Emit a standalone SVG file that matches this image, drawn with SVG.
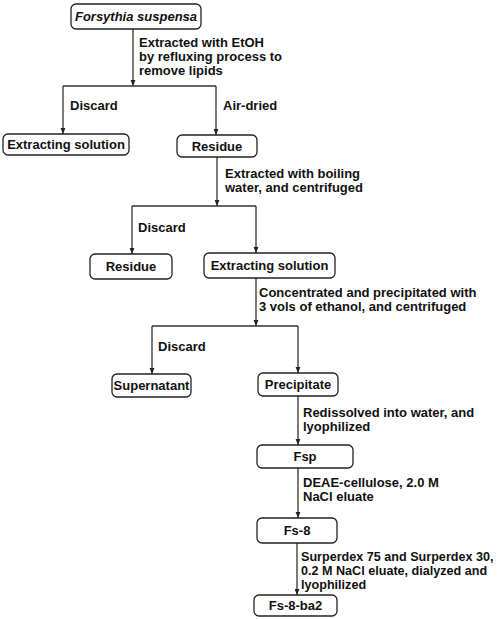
<svg xmlns="http://www.w3.org/2000/svg" width="500" height="619" viewBox="0 0 500 619">
<style>
.box{fill:#fff;stroke:#222;stroke-width:1.3}
.t{font-family:"Liberation Sans",Arial,sans-serif;font-weight:bold;font-size:13px;fill:#111}
.s{font-size:12.6px}
.c{text-anchor:middle}
.ln{stroke:#333;stroke-width:1.3;fill:none}
</style>
<defs>
<marker id="ah" viewBox="0 0 10 10" refX="10" refY="5" markerWidth="6" markerHeight="6" markerUnits="userSpaceOnUse" orient="auto">
<path d="M0,1 L10,5 L0,9 z" fill="#222"/>
</marker>
</defs>
<g id="connectors">
<line class="ln" x1="133" y1="29" x2="133" y2="86" marker-end="url(#ah)"/>
<line class="ln" x1="63" y1="86" x2="216" y2="86"/>
<line class="ln" x1="63" y1="86" x2="63" y2="134" marker-end="url(#ah)"/>
<line class="ln" x1="216" y1="86" x2="216" y2="135" marker-end="url(#ah)"/>
<line class="ln" x1="217" y1="157" x2="217" y2="206" marker-end="url(#ah)"/>
<line class="ln" x1="132" y1="206" x2="256" y2="206"/>
<line class="ln" x1="132" y1="206" x2="132" y2="254" marker-end="url(#ah)"/>
<line class="ln" x1="256" y1="206" x2="256" y2="253" marker-end="url(#ah)"/>
<line class="ln" x1="256" y1="278" x2="256" y2="326" marker-end="url(#ah)"/>
<line class="ln" x1="152" y1="326" x2="298" y2="326"/>
<line class="ln" x1="152" y1="326" x2="152" y2="374" marker-end="url(#ah)"/>
<line class="ln" x1="298" y1="326" x2="298" y2="373" marker-end="url(#ah)"/>
<line class="ln" x1="298" y1="396" x2="298" y2="445" marker-end="url(#ah)"/>
<line class="ln" x1="298" y1="468" x2="298" y2="518" marker-end="url(#ah)"/>
<line class="ln" x1="297" y1="543" x2="297" y2="595" marker-end="url(#ah)"/>
</g>
<g id="labels">
<text class="t" x="139" y="47">Extracted with EtOH</text>
<text class="t" x="139" y="61">by refluxing process to</text>
<text class="t" x="139" y="75">remove lipids</text>
<text class="t" x="70" y="110">Discard</text>
<text class="t" x="223" y="110">Air-dried</text>
<text class="t" x="225" y="178">Extracted with boiling</text>
<text class="t" x="225" y="192">water, and centrifuged</text>
<text class="t" x="138" y="232">Discard</text>
<text class="t" x="259" y="297">Concentrated and precipitated with</text>
<text class="t" x="259" y="311">3 vols of ethanol, and centrifuged</text>
<text class="t" x="158" y="351">Discard</text>
<text class="t" x="303" y="417">Redissolved into water, and</text>
<text class="t" x="303" y="431">lyophilized</text>
<text class="t" x="303" y="487">DEAE-cellulose, 2.0 M</text>
<text class="t" x="303" y="501">NaCl eluate</text>
<text class="t s" x="301" y="561">Surperdex 75 and Surperdex 30,</text>
<text class="t s" x="301" y="575">0.2 M NaCl eluate, dialyzed and</text>
<text class="t s" x="301" y="589">lyophilized</text>
</g>
<g id="n1"><rect class="box" x="71" y="4" width="130" height="25" rx="5"/><text class="t c" x="136" y="21" font-style="italic">Forsythia suspensa</text></g>
<g id="n2"><rect class="box" x="3" y="134" width="126" height="21" rx="5"/><text class="t c" x="66" y="149">Extracting solution</text></g>
<g id="n3"><rect class="box" x="177" y="135" width="80" height="22" rx="5"/><text class="t c" x="217" y="151">Residue</text></g>
<g id="n4"><rect class="box" x="90" y="254" width="82" height="25" rx="5"/><text class="t c" x="131" y="271">Residue</text></g>
<g id="n5"><rect class="box" x="204" y="253" width="131" height="25" rx="5"/><text class="t c" x="269.5" y="270">Extracting solution</text></g>
<g id="n6"><rect class="box" x="112" y="374" width="79" height="23" rx="5"/><text class="t c" x="151.5" y="390">Supernatant</text></g>
<g id="n7"><rect class="box" x="258" y="373" width="80" height="23" rx="5"/><text class="t c" x="298" y="389">Precipitate</text></g>
<g id="n8"><rect class="box" x="257" y="445" width="96" height="23" rx="5"/><text class="t c" x="305" y="461">Fsp</text></g>
<g id="n9"><rect class="box" x="257" y="518" width="80" height="25" rx="5"/><text class="t c" x="297" y="535">Fs-8</text></g>
<g id="n10"><rect class="box" x="254" y="595" width="83" height="21" rx="5"/><text class="t c" x="295.5" y="610">Fs-8-ba2</text></g>
</svg>
